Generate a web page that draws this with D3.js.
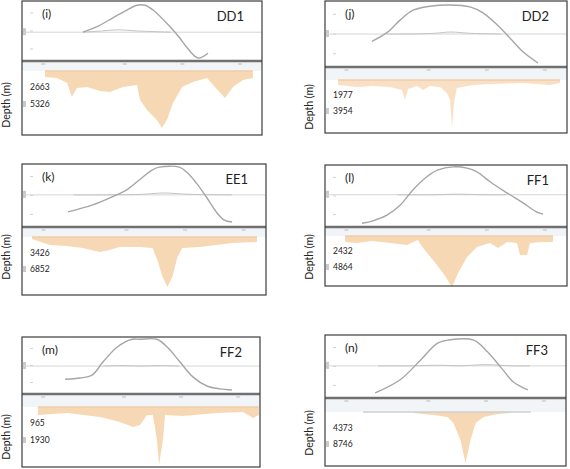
<!DOCTYPE html>
<html>
<head>
<meta charset="utf-8">
<script src="https://cdn.jsdelivr.net/npm/d3@7"></script>
<style>
  body { margin: 0; background: #fff; }
  svg { display: block; font-family: Lato, "Open Sans", sans-serif; }
</style>
</head>
<body>
<svg width="570" height="469"></svg>
<script>
// section names and panel letters
var names = ["DD1", "DD2", "EE1", "FF1", "FF2", "FF3"];
var letters = ["(i)", "(j)", "(k)", "(l)", "(m)", "(n)"];

// depth tick labels (m)
var depthTicks = [[2663, 5326], [1977, 3954], [3426, 6852], [2432, 4864], [965, 1930], [4373, 8746]];

// level of the flat reference line in the upper plot (0..1)
var refLevel = [0.48, 0.50, 0.51, 0.52, 0.49, 0.51];

// upper plot: bell shaped curve, [distance %, normalised value]
var curveDD1 = [[25.4,0.48],[31.7,0.58],[37.9,0.72],[42.9,0.83],[47.9,0.93],[51.2,0.93],[54.6,0.85],[61.7,0.57],[65.8,0.38],[68.8,0.22],[73.3,0.05],[77.5,0.13]];
var curveDD2 = [[19.4,0.39],[25.6,0.52],[31.0,0.71],[36.4,0.86],[43.4,0.92],[51.7,0.94],[59.9,0.91],[65.3,0.82],[71.1,0.64],[76.4,0.44],[81.8,0.23],[88.0,0.06]];
var curveEE1 = [[18.8,0.24],[29.0,0.35],[37.1,0.48],[42.9,0.59],[48.2,0.75],[53.1,0.90],[56.3,0.95],[64.5,0.95],[67.8,0.86],[71.4,0.70],[75.5,0.48],[79.6,0.24],[82.9,0.11],[86.1,0.08]];
var curveFF1 = [[15.3,0.06],[19.8,0.10],[25.6,0.19],[31.0,0.35],[36.4,0.60],[42.1,0.81],[46.7,0.92],[52.9,0.97],[58.7,0.95],[62.8,0.89],[68.2,0.73],[75.2,0.55],[81.8,0.39],[87.6,0.24],[90.1,0.21]];
var curveFF2 = [[18.1,0.26],[24.4,0.28],[29.4,0.33],[34.0,0.56],[39.9,0.82],[46.2,0.96],[49.6,0.96],[56.7,0.96],[61.3,0.81],[66.4,0.56],[71.8,0.30],[77.7,0.14],[83.2,0.09],[88.2,0.07]];
var curveFF3 = [[20.8,0.08],[31.2,0.29],[39.6,0.60],[46.7,0.87],[51.2,0.92],[61.7,0.92],[67.5,0.73],[72.9,0.49],[78.3,0.25],[84.2,0.13]];

// upper plot: second, nearly flat curve
var flatDD1 = [[25.4,0.48],[33,0.50],[40,0.52],[48,0.50],[55,0.49],[62,0.48]];
var flatDD2 = [[25.6,0.50],[35,0.50],[45,0.51],[52,0.53],[60,0.51],[73,0.50]];
var flatEE1 = [[21,0.51],[35,0.51],[50,0.52],[58,0.54],[68,0.52],[86,0.51]];
var flatFF1 = [[30,0.52],[45,0.52],[55,0.53],[65,0.52],[75,0.52]];
var flatFF2 = [[34,0.49],[42,0.50],[50,0.49],[58,0.50],[66,0.49]];
var flatFF3 = [[22,0.51],[35,0.51],[48,0.52],[56,0.51],[66,0.53],[78,0.51],[85,0.51]];

// lower plot: depth profile, [distance %, depth m]
var depthDD1 = [[9.6,968],[14.6,1130],[18.8,1937],[20.8,4196],[22.9,2744],[27.1,2582],[32.5,3228],[36.7,3389],[42.1,2582],[47.9,2260],[49.2,4681],[52.1,6295],[56.2,7909],[58.3,9200],[60.4,7909],[62.9,5165],[66.7,2582],[71.2,1775],[77.1,1130],[80.4,2582],[84.6,4358],[87.9,2582],[92.1,1453],[96.2,1130]];
var depthDD2 = [[5.4,638],[13.2,893],[19.8,765],[26.9,893],[31.8,1275],[33.1,2550],[34.3,1148],[38.0,765],[40.5,1275],[43.4,765],[47.5,893],[50.4,1658],[51.7,2550],[52.5,6120],[53.3,2933],[54.5,1020],[61.2,638],[68.2,510],[81.8,383],[93.0,638],[97.1,383]];
var depthEE1 = [[4.1,428],[11.4,1712],[18.4,1926],[24.9,2354],[31.8,3210],[35.9,2782],[40.0,2140],[48.2,2140],[53.5,2354],[55.5,4922],[57.6,8560],[59.6,10700],[61.6,8560],[63.7,4280],[65.7,2354],[72.7,2140],[79.6,1712],[86.1,1284],[96.3,1070]];
var depthFF1 = [[8.3,942],[13.2,1099],[19.8,785],[26.9,1099],[33.9,1413],[38.4,628],[40.5,1884],[44.6,3768],[48.8,5809],[52.5,8007],[55.0,5809],[58.7,3297],[62.8,1727],[68.2,1099],[71.5,1884],[75.2,942],[79.3,1099],[80.6,2983],[83.5,2983],[84.7,1099],[90.1,942],[94.2,942]];
var depthFF2 = [[6.7,468],[18.9,351],[32.8,585],[41.2,878],[46.6,1170],[49.6,1053],[52.5,468],[55.0,468],[56.7,1931],[57.6,3393],[59.2,1931],[60.1,468],[67.6,527],[81.9,351],[92.9,293],[97.1,644],[99.5,468]];
var depthFF3 = [[36.7,273],[45.0,819],[50.8,1365],[53.3,3003],[56.2,7644],[58.3,13923],[60.4,7644],[62.5,3003],[65.8,1365],[71.7,546],[77.1,273]];

// extent of the surface line at depth 0
var surface = [[9.6,96.2],[5.4,97.1],[4.1,96.3],[8.3,94.2],[6.7,99.5],[15.8,85.4]];

var curves = [curveDD1, curveDD2, curveEE1, curveFF1, curveFF2, curveFF3];
var flats = [flatDD1, flatDD2, flatEE1, flatFF1, flatFF2, flatFF3];
var profiles = [depthDD1, depthDD2, depthEE1, depthFF1, depthFF2, depthFF3];

// panel boxes in the figure (pixels)
var layout = [
  {x0: 22,  x1: 262, top: 1,   mid: 61,  bottom: 135, zero: 71,  y2: 104, labY: 105},
  {x0: 325, x1: 567, top: 1,   mid: 67,  bottom: 133, zero: 80,  y2: 111, labY: 107},
  {x0: 22,  x1: 266, top: 164, mid: 227, bottom: 295, zero: 237, y2: 269, labY: 257},
  {x0: 325, x1: 567, top: 165, mid: 227, bottom: 286, zero: 236, y2: 267, labY: 257},
  {x0: 22,  x1: 260, top: 337, mid: 394, bottom: 467, zero: 407, y2: 440, labY: 437},
  {x0: 325, x1: 566, top: 335, mid: 398, bottom: 466, zero: 412, y2: 444, labY: 433}
];

var svg = d3.select("svg");
var fillColor = "#f7d6b0";

names.forEach(function(name, i) {
    var L = layout[i];
    var g = svg.append("g");

    var x = d3.scaleLinear().domain([0, 100]).range([L.x0, L.x1]);
    var yTop = d3.scaleLinear().domain([0, 1]).range([L.mid, L.top]);
    var yDepth = d3.scaleLinear().domain([0, depthTicks[i][1]]).range([L.zero, L.y2]);

    g.append("rect")
        .attr("x", L.x0).attr("y", L.top)
        .attr("width", L.x1 - L.x0).attr("height", L.bottom - L.top)
        .attr("fill", "#fff");

    // faint left axis ticks, upper plot
    g.selectAll(".tt")
        .data([0.2, 0.5, 0.8])
        .join("line")
        .attr("x1", L.x0 + 8).attr("x2", L.x0 + 11)
        .attr("y1", function(d) { return yTop(d); })
        .attr("y2", function(d) { return yTop(d); })
        .attr("stroke", "#d0d0d0");
    g.append("rect")
        .attr("x", L.x0 + 1).attr("y", yTop(refLevel[i]) - 4)
        .attr("width", 3).attr("height", 7)
        .attr("fill", "#cacaca");

    // reference line
    g.append("line")
        .attr("x1", L.x0).attr("x2", L.x1)
        .attr("y1", yTop(refLevel[i])).attr("y2", yTop(refLevel[i]))
        .attr("stroke", "#d6d6d6").attr("stroke-width", 1);

    var line = d3.line()
        .x(function(d) { return x(d[0]); })
        .y(function(d) { return yTop(d[1]); })
        .curve(d3.curveCatmullRom);

    g.append("path")
        .datum(flats[i])
        .attr("d", line)
        .attr("fill", "none")
        .attr("stroke", "#c4c4c4")
        .attr("stroke-width", 1);

    g.append("path")
        .datum(curves[i])
        .attr("d", line)
        .attr("fill", "none")
        .attr("stroke", "#a6a6a6")
        .attr("stroke-width", 1.4);

    // lower plot
    g.append("rect")
        .attr("x", L.x0).attr("y", L.mid)
        .attr("width", L.x1 - L.x0).attr("height", L.zero - L.mid)
        .attr("fill", "#f2f5f8");

    var area = d3.area()
        .x(function(d) { return x(d[0]); })
        .y0(yDepth(0))
        .y1(function(d) { return yDepth(d[1]); })
        .curve(d3.curveLinear);

    g.append("path")
        .datum(profiles[i])
        .attr("d", area)
        .attr("fill", fillColor)
        .attr("opacity", i == 1 ? 0.75 : 0.95);

    g.append("line")
        .attr("x1", x(surface[i][0])).attr("x2", x(surface[i][1]))
        .attr("y1", yDepth(0)).attr("y2", yDepth(0))
        .attr("stroke", i == 5 ? "#cfcfcf" : "#f1ccaa")
        .attr("stroke-width", 1.5);

    // faint ticks under the divider
    g.selectAll(".bt")
        .data([8, 42, 66, 90])
        .join("line")
        .attr("x1", function(d) { return x(d); })
        .attr("x2", function(d) { return x(d) + 4; })
        .attr("y1", L.mid + 3).attr("y2", L.mid + 3)
        .attr("stroke", "#cdcdcd").attr("stroke-width", 1.5);

    g.append("rect")
        .attr("x", L.x0 + 1).attr("y", yDepth(depthTicks[i][1]) - 3)
        .attr("width", 3).attr("height", 6)
        .attr("fill", "#cacaca");

    g.selectAll(".dl")
        .data(depthTicks[i])
        .join("text")
        .attr("x", L.x0 + 8)
        .attr("y", function(d) { return yDepth(d); })
        .attr("dy", "0.35em")
        .attr("font-size", 8.5)
        .attr("fill", "#222")
        .text(function(d) { return d; });

    // divider and frame
    g.append("line")
        .attr("x1", L.x0).attr("x2", L.x1)
        .attr("y1", L.mid).attr("y2", L.mid)
        .attr("stroke", "#707070").attr("stroke-width", 2.5);

    g.append("rect")
        .attr("x", L.x0).attr("y", L.top)
        .attr("width", L.x1 - L.x0).attr("height", L.bottom - L.top)
        .attr("fill", "none")
        .attr("stroke", "#3c3c3c").attr("stroke-width", 1.2);

    g.append("text")
        .attr("x", L.x0 + 20).attr("y", L.top + 17)
        .attr("font-size", 12)
        .attr("fill", "#222")
        .text(letters[i]);

    g.append("text")
        .attr("x", L.x1 - 18).attr("y", L.top + 20)
        .attr("text-anchor", "end")
        .attr("font-size", 13)
        .attr("fill", "#222")
        .text(name);

    g.append("text")
        .attr("transform", "translate(" + (L.x0 - 12) + "," + L.labY + ") rotate(-90)")
        .attr("text-anchor", "middle")
        .attr("font-size", 10.5)
        .attr("fill", "#222")
        .text("Depth (m)");
});
</script>
</body>
</html>
